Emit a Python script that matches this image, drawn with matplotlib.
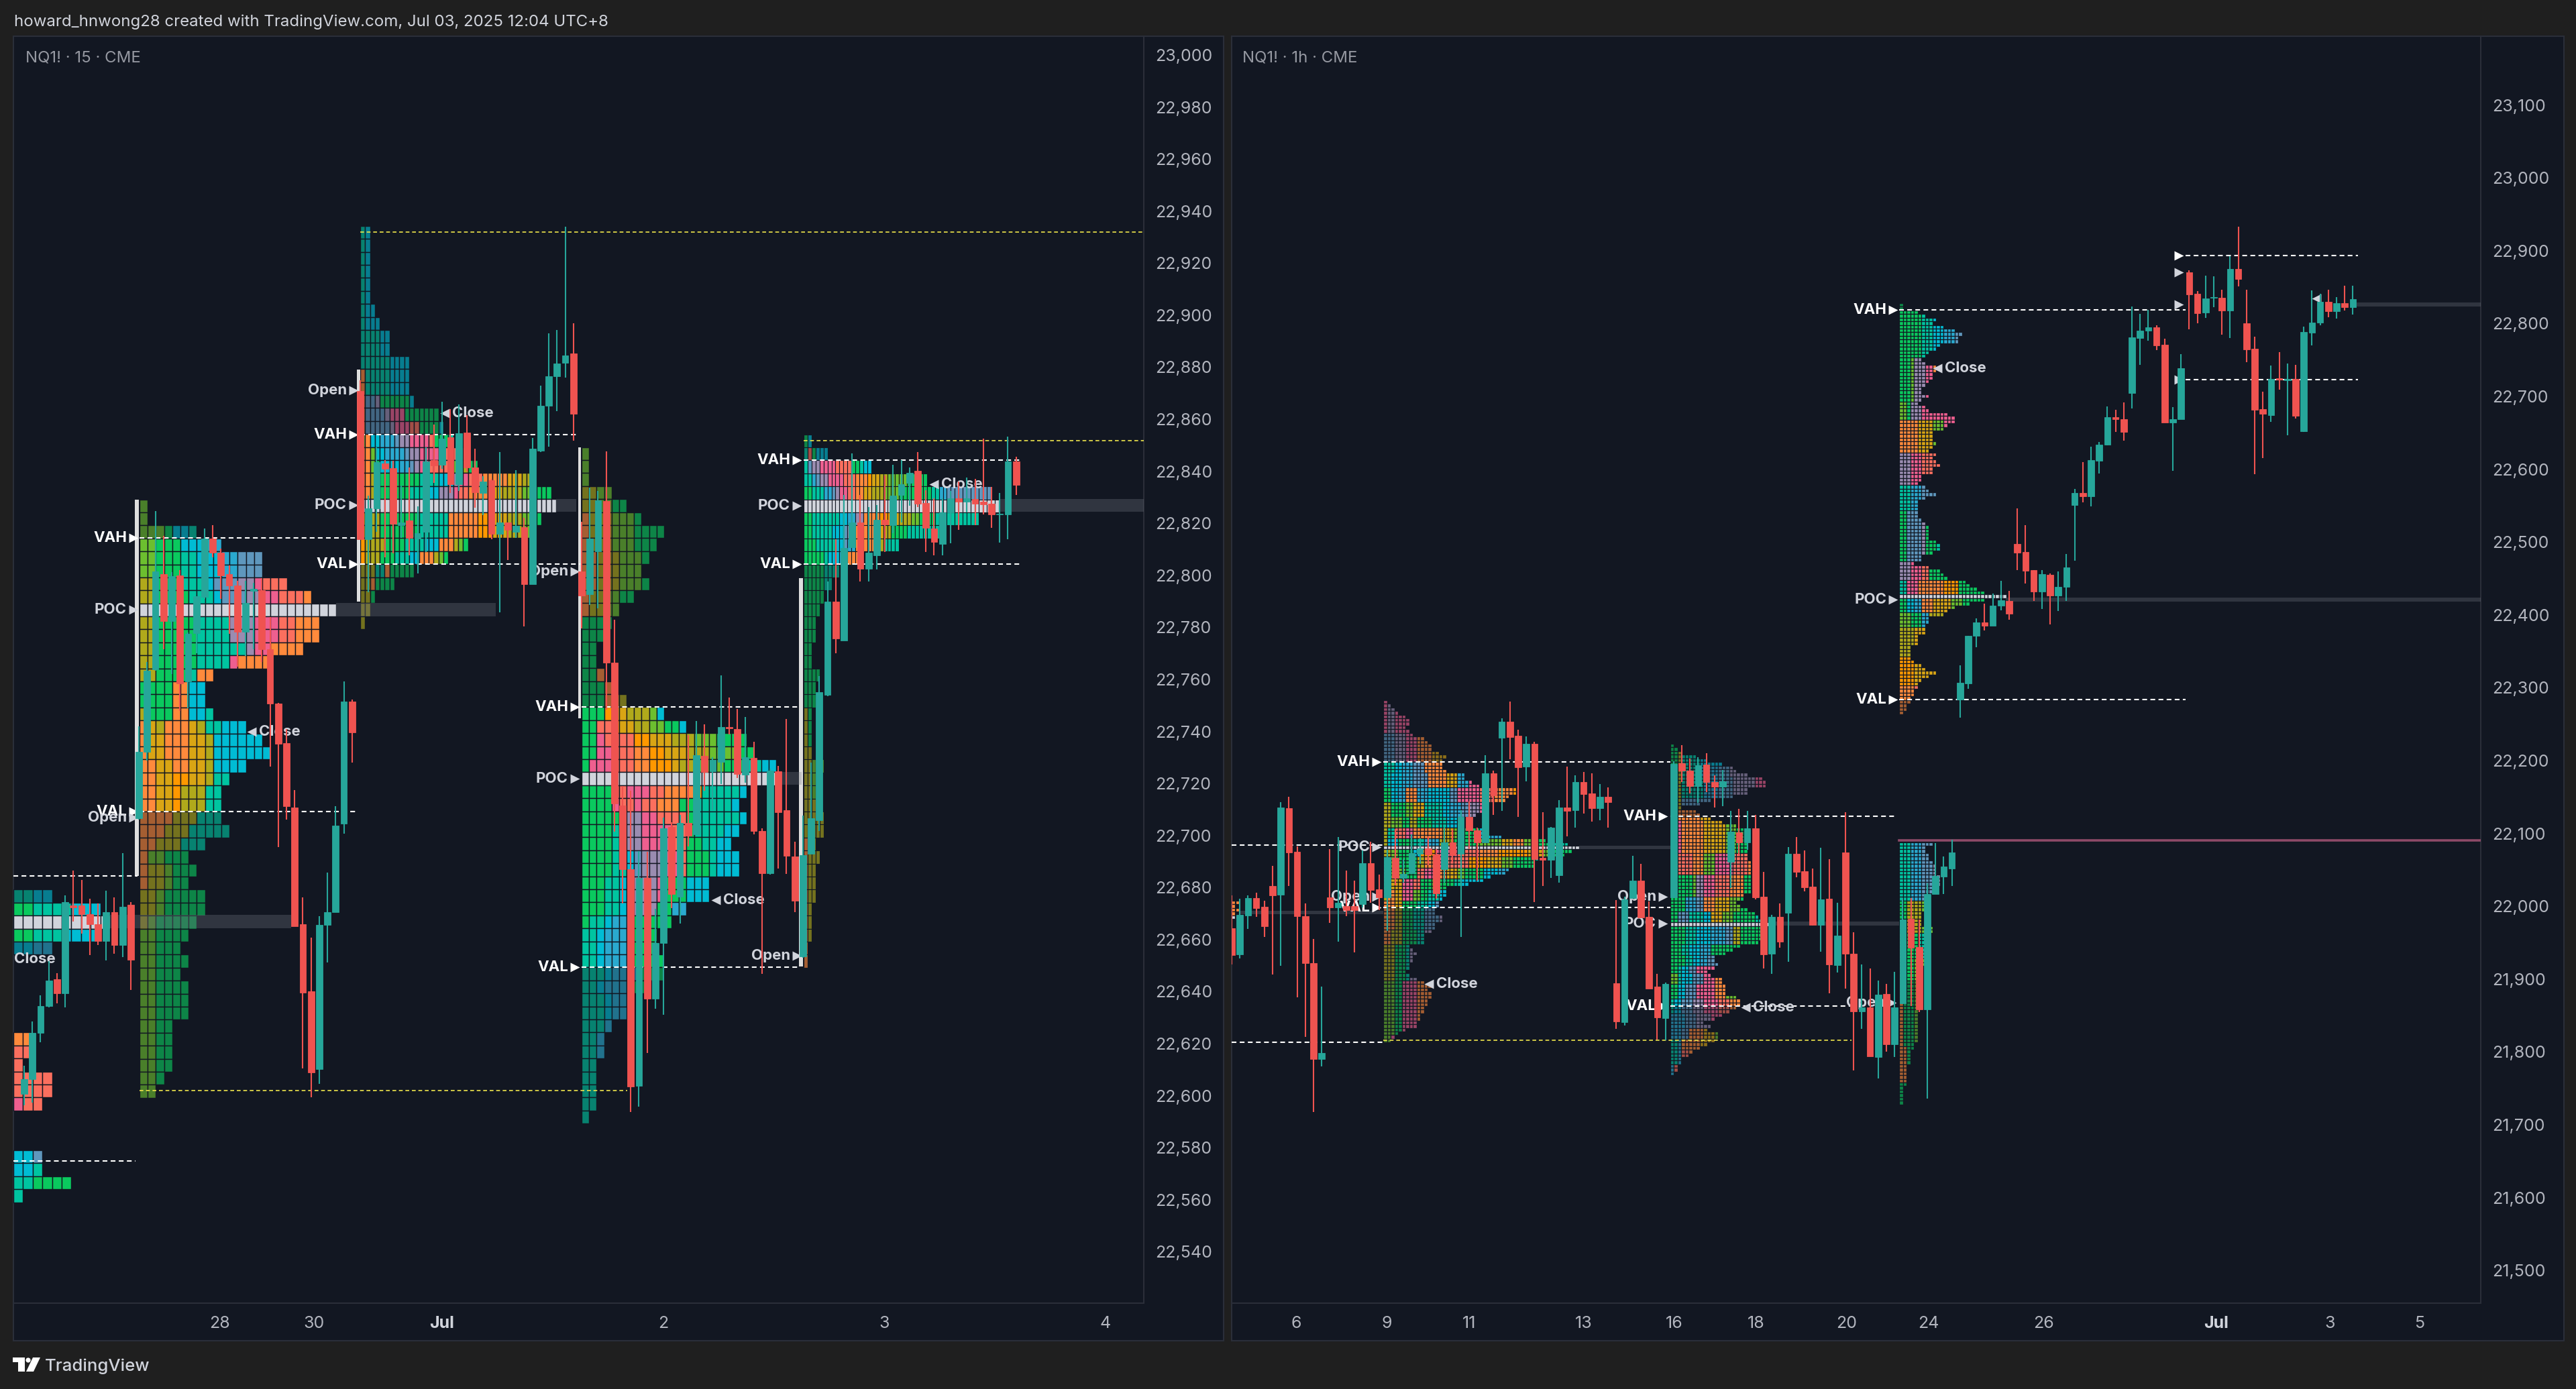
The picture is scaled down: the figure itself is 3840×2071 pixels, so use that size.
"""TradingView screenshot: NQ1! 15 / 1h candles with session volume profiles."""
import re

import matplotlib
matplotlib.use('Agg')
import matplotlib.pyplot as plt
from matplotlib.colors import to_rgb
from matplotlib.patches import Rectangle, Polygon, Circle

plt.rcParams['font.family'] = ['Inter', 'DejaVu Sans']

# ---- left chart candles (NQ1! 15) ----
left_open = [
    22600.7, 22606.4, 22624.2, 22634.4, 22644.7, 22639.3, 22673, 22673, 22669.7, 22666,
    22659.5, 22670.5, 22658, 22673.3, 22706.7, 22732.2, 22763.8, 22800.4, 22782.3, 22800,
    22759.3, 22777.9, 22791.7, 22814, 22808.6, 22800.4, 22796, 22778.2, 22794, 22794.3,
    22771.7, 22750.6, 22735.5, 22710.8, 22666, 22640, 22610.2, 22665.6, 22670.5, 22704.6,
    22751.4, 22870.9, 22813.8, 22825.6, 22843.1, 22841.1, 22819.2, 22821, 22814.1, 22816.8,
    22844.4, 22842.4, 22853, 22835, 22854.8, 22841.4, 22831.6, 22836.5, 22816, 22820.2,
    22816.8, 22818.4, 22796.7, 22848, 22865.1, 22876.4, 22881.7, 22885.3, 22801.5, 22792.7,
    22809.3, 22828.5, 22766.4, 22711.5, 22687, 22603.7, 22683.8, 22637.2, 22658.7, 22703.3,
    22676.5, 22704.9, 22700.4, 22730.7, 22724.7, 22728.4, 22741.8, 22740.8, 22723.4, 22729.7,
    22701.7, 22685.5, 22724.7, 22709.7, 22691.9, 22653.4, 22692.9, 22705.8, 22754.1, 22789.9,
    22775, 22810.8, 22820.3, 22802.6, 22807.6, 22821.3, 22819.3, 22830.9, 22835.4, 22840.1,
    22827.9, 22818, 22812.1, 22824.3, 22829.6, 22828.4, 22829.3, 22828.4, 22827.6, 22823.4,
    22823.5, 22843.8,
]
left_close = [
    22606.4, 22624.2, 22634.4, 22644.2, 22639.3, 22674.3, 22672.4, 22669.7, 22666, 22659.4,
    22670.5, 22658, 22672.7, 22652.3, 22732.2, 22763.4, 22801.6, 22782.3, 22799.6, 22758.5,
    22777.4, 22791.9, 22814, 22808.6, 22800, 22796, 22778.2, 22789.4, 22794.7, 22771.7,
    22750.6, 22735.2, 22711.2, 22665, 22639.5, 22609, 22665.6, 22670.5, 22703.9, 22751.4,
    22739.6, 22813.8, 22825.6, 22843.4, 22841, 22819.9, 22820.4, 22814.5, 22816.3, 22843.7,
    22842.2, 22852.5, 22835, 22854.5, 22841.4, 22831.8, 22836, 22816, 22820.2, 22817.4,
    22819, 22796.7, 22848.8, 22865.1, 22876.6, 22881.4, 22884.6, 22862.1, 22792.1, 22814.2,
    22828.8, 22766.4, 22712.4, 22687, 22603.6, 22683.8, 22637.2, 22658.7, 22702.8, 22677.4,
    22704.9, 22699.9, 22730.9, 22724.5, 22729, 22741.8, 22741.2, 22723.7, 22730, 22701.7,
    22685.5, 22724.9, 22709, 22692.1, 22675, 22692.4, 22706.7, 22755.2, 22789.9, 22775.8,
    22810.4, 22820.3, 22802.6, 22808.7, 22821.3, 22819.6, 22830.6, 22834.9, 22839.4, 22827.6,
    22818.2, 22812.9, 22824.3, 22829.6, 22828.4, 22829.6, 22827.6, 22827.4, 22823.4, 22823.6,
    22843.8, 22834.7,
]
left_high = [
    22611.4, 22628.6, 22638.5, 22651.6, 22647, 22677, 22686.5, 22683, 22675.8, 22674,
    22678.8, 22676.3, 22693.2, 22674.3, 22742, 22766.7, 22824.8, 22815.2, 22801.2, 22802,
    22778, 22792, 22818, 22819.3, 22810.3, 22803.7, 22798, 22798, 22797, 22799,
    22784, 22751, 22741, 22717.4, 22676.3, 22660.7, 22669, 22685.8, 22711.3, 22759.3,
    22752.3, 22875, 22830.6, 22849.3, 22844.4, 22844.1, 22834.5, 22841.4, 22826.6, 22849.3,
    22857.9, 22866.6, 22863.8, 22865.6, 22861.6, 22848.8, 22838, 22837, 22847.3, 22820.2,
    22840.4, 22822.2, 22852.8, 22873, 22892.9, 22894.2, 22934, 22897, 22820.5, 22833.6,
    22832.5, 22847.6, 22782.9, 22719, 22717.2, 22694, 22693.7, 22671.8, 22707, 22705.2,
    22708, 22738.6, 22743.9, 22742.6, 22730, 22761.6, 22753, 22748.7, 22745.5, 22736.1,
    22702.8, 22725.7, 22726.8, 22744.7, 22697.6, 22707.6, 22727.9, 22761.2, 22797.7, 22813.9,
    22830.9, 22846.9, 22830.9, 22826.2, 22826.9, 22838.4, 22842.5, 22844.3, 22841.5, 22847.4,
    22832.6, 22829.5, 22829.5, 22832.5, 22836.1, 22837.5, 22837, 22852.5, 22834.1, 22831.6,
    22853.2, 22845.7,
]
left_low = [
    22596.2, 22597.4, 22620.4, 22634, 22635.5, 22634, 22667, 22662.3, 22654, 22658,
    22652, 22654.6, 22653.3, 22640.6, 22706, 22728.9, 22763.4, 22771.6, 22762, 22748,
    22749, 22770, 22791, 22807, 22791, 22777.4, 22765, 22769, 22771.7, 22766.7,
    22726.4, 22695.5, 22706, 22665, 22610.5, 22599.3, 22604.5, 22651.3, 22670.5, 22700.6,
    22728, 22813.8, 22793.6, 22816.8, 22806.9, 22808.4, 22814.3, 22807.6, 22800.8, 22808.9,
    22835.5, 22841, 22831.6, 22832.5, 22840, 22826.1, 22823.2, 22813.8, 22785.7, 22806,
    22814.3, 22780.4, 22796.5, 22847.3, 22849.5, 22863.1, 22876, 22851.8, 22779.7, 22788.7,
    22787.2, 22748.3, 22701.5, 22673.9, 22593.7, 22595.7, 22616.4, 22633.3, 22631.2, 22672,
    22666.2, 22695.8, 22700.4, 22717.2, 22709.7, 22719.9, 22738.8, 22722, 22720.4, 22700.4,
    22646.7, 22685, 22687.3, 22685.3, 22670.5, 22653, 22692.9, 22701.8, 22753.6, 22770.1,
    22775, 22810.4, 22797.7, 22797.7, 22802.2, 22809, 22816.3, 22820.3, 22826.7, 22826.2,
    22809, 22807.8, 22807.8, 22812.2, 22817.5, 22824.3, 22819.3, 22823.5, 22818.2, 22812.5,
    22813.8, 22830.9,
]

# ---- right chart candles (NQ1! 1h) ----
right_open = [
    21969.9, 21933.7, 21987.1, 22011, 21999.4, 22027.4, 22015.9, 22134.3, 22074.7, 21986.3,
    21921.7, 21789.8, 22012.2, 21998.6, 22000, 22000, 22002.7, 22059, 22023.3, 22012.3,
    22066.5, 22039.2, 22045.2, 22072.1, 22079.7, 22070.8, 22050.8, 22087.9, 22072.1, 22122.5,
    22104.4, 22087.3, 22182.3, 22231.7, 22253.4, 22234.3, 22191.5, 22222.8, 22066.5, 22063.9,
    22042.9, 22135.6, 22132.3, 22170.1, 22154.7, 22134.6, 22150.4, 21894.6, 21841.2, 22011,
    22035.6, 21985.5, 21889.3, 21846.8, 22012.3, 22196.2, 22186, 22165.1, 22194.6, 22170.8,
    22163.9, 22061.4, 22101.1, 22087.8, 22107.4, 22012.9, 21934.6, 21985.3, 21990.7, 22071.6,
    22048.1, 22026.6, 21974.2, 22010.7, 21919.4, 22073.5, 21934.6, 21855.3, 21861, 21793,
    21879.4, 21810.3, 21866.2, 21983, 21944.3, 21858, 22017.1, 22040.6, 22052.1, 22283.9,
    22305.9, 22371, 22389.3, 22385.2, 22412.6, 22419, 22497.4, 22486.8, 22461.6, 22431.9,
    22454.8, 22426.4, 22438.7, 22551, 22567, 22562.4, 22612, 22633.4, 22671.9, 22669.2,
    22704.4, 22780, 22790.1, 22795.1, 22770.9, 22663.7, 22669.2, 22870.3, 22841, 22815.3,
    22835, 22835.5, 22817.6, 22875.3, 22800.6, 22765.4, 22682.4, 22674.7, 22724.6, 22722.3,
    22724.1, 22651.8, 22787.8, 22801.1, 22829.5, 22816.7, 22827.7, 22822.2,
]
right_close = [
    21932.9, 21988.4, 22011, 21997.8, 21972.7, 22015, 22135.1, 22073.8, 21986.3, 21921.7,
    21789.8, 21798.4, 21998.6, 22004.8, 21995, 21995, 22059, 22022, 22012.2, 22067.7,
    22039.2, 22044.2, 22073.1, 22079.7, 22070.8, 22017.9, 22087.9, 22069.8, 22122.5, 22104.4,
    22087.9, 22182.3, 22152, 22253, 22232.6, 22190.9, 22222.8, 22064.9, 22063.9, 22107.7,
    22135.6, 22131.3, 22170.8, 22154.4, 22134.6, 22150.4, 22143.2, 21841.6, 22009.7, 22035.6,
    21984.3, 21886.8, 21847.4, 21893.4, 22195.2, 22186, 22165.1, 22193.7, 22170.8, 22163.9,
    22171.5, 22102, 22087.8, 22107.4, 22012.3, 21933.6, 21985.3, 21951.1, 22071.6, 22047.2,
    22025.6, 21974.2, 22009.7, 21920.3, 21959.3, 21934.6, 21856, 21861, 21793.5, 21878.2,
    21810.3, 21860.9, 21982.2, 21943.1, 21858, 22017.1, 22041.8, 22054.1, 22073.8, 22306.8,
    22371.4, 22389.3, 22385.2, 22412.6, 22420.4, 22402, 22485.9, 22460.3, 22431.9, 22455.7,
    22426.4, 22438.7, 22465.3, 22567, 22563.3, 22612.4, 22633.4, 22671.5, 22669.2, 22650.8,
    22781.4, 22790.6, 22795.1, 22769.9, 22663.7, 22669.2, 22738.8, 22839.6, 22814.4, 22834.1,
    22836, 22817.6, 22875.3, 22861.1, 22764.9, 22681.5, 22676.5, 22723.7, 22722.8, 22723.7,
    22673.3, 22788.3, 22801.6, 22829.5, 22816.7, 22827.7, 22822.2, 22834,
]
right_high = [
    22015, 22010.1, 22015, 22018.4, 22007.7, 22055.4, 22142.5, 22149.9, 22081.7, 22004,
    21954.6, 21889.7, 22078.8, 22095, 22048.8, 22035, 22076.7, 22089, 22043, 22077.6,
    22106, 22064.9, 22098.5, 22092.9, 22096.1, 22078, 22107.7, 22105, 22132.3, 22143.8,
    22108.3, 22207, 22186, 22258, 22281.3, 22242.5, 22233.6, 22226, 22129, 22109.3,
    22145.5, 22191.5, 22179.4, 22184.3, 22182.7, 22167.8, 22162.9, 22008.9, 22013, 22069.7,
    22058.2, 22006.8, 21907.6, 21895, 22199.4, 22220.9, 22203.2, 22204.8, 22209.8, 22179.7,
    22186.7, 22131.2, 22133.4, 22130.6, 22125.5, 22047.2, 21987.9, 22003.4, 22081.1, 22095.4,
    22076.3, 22051.9, 22080.5, 22064.6, 22004.4, 22129, 21964.7, 21920.3, 21914.6, 21897.9,
    21893.8, 21910.2, 22011, 22011, 21982, 22031.5, 22087, 22068.5, 22091.1, 22331,
    22371.4, 22395.2, 22415.8, 22429.6, 22446.5, 22432.8, 22546.4, 22523.5, 22461.6, 22461.6,
    22457, 22459.4, 22483.2, 22573, 22609.6, 22631.1, 22637, 22686.1, 22681.5, 22692,
    22823.5, 22813, 22819, 22797.4, 22779, 22685.2, 22758.5, 22873, 22844.2, 22865.7,
    22864.8, 22846.4, 22892.3, 22933, 22846.4, 22782.3, 22706.7, 22742.5, 22760.8, 22744.8,
    22743.4, 22796, 22845.5, 22841, 22846.4, 22835.9, 22852, 22852.4,
]
right_low = [
    21920, 21928.7, 21969, 21985.5, 21957.5, 21906.1, 21918.5, 22027.4, 21874.5, 21821,
    21717.8, 21780, 21977.2, 21951.4, 21986, 21937, 21998.6, 22004.8, 21994.5, 21965.7,
    22028.7, 22032, 22045.2, 22058.3, 22056.7, 22010.6, 22032, 22060, 21958, 22078,
    22035.3, 22087.3, 22125.1, 22130.7, 22201.4, 22122.5, 22171.8, 22005.7, 22028, 22038.6,
    22032.7, 22095.5, 22108.3, 22127.4, 22116.5, 22118.5, 22108.3, 21832.1, 21836, 22011,
    21984, 21886.8, 21817.3, 21815.7, 22011.6, 22170.2, 22155, 22142.3, 22156.6, 22135.9,
    22137.5, 22025, 22069.4, 22077.3, 22009.7, 21914.6, 21907.6, 21943.2, 21924.1, 22040.2,
    22020.2, 21973.6, 21937.8, 21880, 21908.6, 21887, 21774.4, 21831.5, 21793.5, 21763.5,
    21800.5, 21793, 21866, 21863, 21855, 21736.3, 22017, 22017.1, 22028.2, 22258.7,
    22299, 22355.4, 22378.3, 22385.2, 22406.7, 22393.8, 22461.6, 22443.3, 22419, 22408,
    22387, 22405.8, 22419, 22474.5, 22554.6, 22548.7, 22594.5, 22632.5, 22650.8, 22639.4,
    22683.8, 22743.4, 22776.4, 22764, 22663.7, 22598.2, 22669.2, 22792.4, 22800.6, 22807.5,
    22822.2, 22784.6, 22780, 22851, 22746.6, 22593.1, 22615.1, 22665.5, 22709, 22646.3,
    22670, 22650.8, 22770, 22797.4, 22808.4, 22806.6, 22817.6, 22812,
]

# ---- left chart profiles: cells per row, top to bottom ----
prof_a_widths = [1, 1, 7, 10, 15, 15, 18, 21, 24, 22, 22, 20, 16, 9, 8, 8, 9, 13, 15, 16, 13, 11, 10, 10,
                 10, 11, 8, 6, 7, 6, 8, 8, 7, 6, 5, 6, 5, 6, 6, 6, 4, 4, 4, 4, 3, 2]
prof_a_colors = [(2, 'l2'), (1, 'l3g1c2t1'), (1, 'l2g3c3b2'), (2, 'l2g3t2c3b2s3'), (1, 'k2g3t3c1s3v2p1r3O1'),
                 (1, 'k2g4t3c1s3v2p2r3O1'), (1, 'W'), (2, 'k2g5t4v3p3r2O3'), (1, 'k2g5t6v1p2O4'), (1, 'k2g5t4p1O4'),
                 (1, 'k2g4t1O2'), (2, 'g4O2c2'), (1, 'k1g3O2c2t1'), (1, 'O1y1k1O3y1k1t2c3'), (2, 'O1y2O3y2k1c6'),
                 (1, 'O2y2O2y2k1c2'), (1, 'O2y2o2y2k1t2'), (2, 'O2y2o1k3t2'), (1, 'O4k3t3'), (1, 'O3k3t5'),
                 (1, 'O2k3t3'), (1, 'O1l2g3'), (2, 'O1k2l1g2'), (2, 'k2l1g4'), (1, 'k1l1g5'), (13, 'l2g4')]
prof_b_widths = [2, 2, 2, 2, 2, 2, 3, 4, 6, 6, 10, 10, 10, 11, 16, 17, 19, 22, 24, 35, 39, 40, 37, 35, 22, 18,
                 11, 7, 3, 2, 1]
prof_b_colors = [(8, 't1c1'), (2, 't4c2'), (1, 't6c4'), (2, 'O1t5c4'), (1, 'O1s2v1g6c1'), (1, 'O1s4v1p3g7b1'),
                 (1, 'O1s5v1p3r2g4c1'), (1, 'l1O1c2b3s1v2p4r1g3t1'), (1, 'O2l1c2b4s1v2p4r5'),
                 (1, 'O2l1g1c4b2s1v1p2r4l2k2g2'), (1, 'O2k2g8t4c3v1p2r3O5y3k2g1'), (1, 'O2k2g6t4c2v3p1r2O4y3k4l3g3'),
                 (1, 'W'), (1, 'k4g8t6O6o3y3k3l2g2'), (1, 'k4g8t6O6o3y3k3l2g2'), (1, 'o1k4g4t4c3O3k1l1g1'),
                 (1, 'o1k3g3t3c2O3k1l1g1'), (1, 'k3t2O1g5'), (1, 'k2O1g4'), (3, 'k2g1')]
prof_c_widths = [1, 1, 1, 4, 6, 8, 11, 10, 9, 8, 9, 7, 5, 4, 3, 2, 2, 3, 4, 6, 11, 14, 22, 23, 26, 26, 22, 21, 22,
                 21, 20, 21, 21, 17, 17, 14, 12, 10, 10, 11, 11, 9, 7, 6, 4, 3, 3, 2, 2, 2, 2, 1]
prof_c_colors = [(3, 'l1'), (2, 'k2l2g1'), (3, 'O1k3l3g4'), (3, 'O2k3l3g2'), (2, 'O1k2l2g2'), (4, 'g3'),
                 (1, 'g2O1'), (1, 'g3O1'), (1, 'g3O1k2'), (1, 'g3o1y2k3l1c1'), (1, 'g2r2o1y2k2l2g2c1'),
                 (1, 'g2p1r4o2y3k3l3g4'), (1, 'g2p2r3O2o2y3k3l4g3c1'), (1, 'g1p3r3O2o3y1k2l4g3t2c2'), (1, 'W'),
                 (1, 'g4r2p3r2O4o1t5c1'), (1, 'g4p1r2p1r2O3g2t5c1'), (1, 'g5s1v2p2r4g1t6c1'), (1, 'g4t1s1v2p4r2g1t4c2'),
                 (1, 'g4t2v2p4r2g2t2c2'), (2, 'g4t2c1s1v3p2r1g3t1c4'), (2, 'g3t2c1s1v3p1g3c4'), (1, 'g3t2c1s1v3g2b2'),
                 (1, 'g1t2c1b3g5'), (3, 't2c1b3s1g4'), (1, 't3c1b4g3'), (1, 't2c1b3g3'), (2, 't3c1b3'), (1, 't3b1'),
                 (2, 't2b1'), (5, 't2')]
prof_d_widths = [2, 6, 17, 31, 47, 49, 44, 35, 24, 14, 9, 7, 5, 4, 3, 3, 2, 2, 4, 3, 3, 2, 2, 2, 2, 5, 3, 3, 3, 5,
                 5, 3, 4, 3, 3, 3, 2, 2, 2, 1, 1]
prof_d_colors = [(1, 'g1c1'), (1, 't1r1g1c3'), (1, 't1s1v2p4r4g2t1c2'), (1, 't2b1s1v2p4r3O3o1y2k2l5g5t1b1'),
                 (1, 'g2t3b2s1v1p2r2O2y2k3l4g8t2b2s2'), (1, 'W'), (1, 'g2t7c2b2v2O4o3y2k3l2g4t11'),
                 (1, 'g2t5c3s1v1O6o1y1k2g4t9'), (1, 'g3t5c2s1b2O5k2t4'), (1, 'g5t1c3b2O3'), (5, 'g5t1'), (6, 'g2'),
                 (3, 'k1g2l2'), (4, 'k2l1'), (3, 'k3'), (8, 'O1k3'), (5, 'O2')]
# small profiles cut off by the left edge
prof_e_widths = [4, 9, 10, 9, 4]
prof_e_colors = [(1, 't2c2'), (1, 'g2t4c3'), (1, 'W'), (1, 'g2t3c4'), (1, 'c2b2')]
prof_f_widths = [2, 2, 1, 4, 4, 3]
prof_f_colors = [(1, 'O2'), (1, 'r2'), (1, 'r1'), (2, 'r4'), (1, 'p1r2')]
prof_g_widths = [3, 3, 6, 1]
prof_g_colors = [(1, 'c2s1'), (1, 'c2t1'), (1, 't2g4'), (1, 't1')]

# ---- right chart profiles ----
prof_h_widths = [2, 1, 2, 1, 2]
prof_h_colors = [(1, 'O2'), (1, 'O1'), (1, 'O2'), (1, 'O1'), (1, 'W')]
prof_i_widths = [1, 2, 3, 4, 6, 7, 7, 6, 7, 8, 11, 12, 13, 13, 15, 17, 16, 16, 16, 17, 22, 22, 24, 26, 36, 36, 34, 33,
                 27, 27, 27, 25, 20, 20, 21, 27, 27, 32, 44, 50, 53, 51, 49, 42, 41, 41, 34, 33, 29, 27, 23, 17, 17,
                 17, 16, 15, 15, 14, 14, 16, 16, 14, 14, 13, 11, 11, 11, 7, 8, 9, 8, 8, 7, 7, 6, 7, 9, 11, 13, 12, 13,
                 13, 12, 12, 11, 11, 10, 10, 9, 9, 6, 4, 3, 2]
prof_i_colors = [(9, 'p1v2p9'), (8, 's3v3p3O4y8'), (3, 't3c2b3s3O8y6'), (4, 't2c3b3s4O5y3b3p10'),
                 (4, 'g2c2b2O3b3c6s2p6r4O5o3y3l2'), (4, 'k2g4l2y3t5c2b3s2v3p4O3'), (3, 'k2l3g2k2g4t4c3b2s4'),
                 (3, 'k1t2r3p2O8y3l3g4c3b5'), (2, 'k1c3g4t3b4k4g6l7y3O3l3g5t5'), (1, 'W'),
                 (2, 'k2l2g4c2o4p6r6O5o8y4l3g5'), (3, 'l3g6k2O3p3r6o5y4l3g6t2'), (3, 'k2l4g3r2p4O2y3l2g5c4b3'),
                 (3, 'k2y3p3r2g3l2g4t2c5'), (3, 'k1O2y2p3l2g2t3c3s2'), (2, 'O3y2g4t3c2s2'), (6, 'O3k2g3t3s4v2'),
                 (4, 'O2k3g4t2v3'), (10, 'k3g3t1v3'), (15, 'l3g2p4O6'), (3, 'l2p3O2'), (3, 'p3O2')]
prof_j_widths = [1, 2, 3, 7, 10, 14, 17, 18, 21, 25, 26, 26, 21, 21, 17, 11, 8, 3, 7, 8, 11, 14, 18, 20, 21, 21, 21, 21,
                 21, 21, 21, 21, 22, 22, 22, 22, 22, 22, 22, 22, 22, 20, 20, 18, 19, 21, 23, 24, 25, 27, 26, 26, 25,
                 25, 24, 19, 17, 15, 12, 12, 13, 12, 10, 11, 14, 14, 15, 15, 15, 18, 19, 19, 18, 16, 14, 12, 9, 11,
                 10, 13, 13, 12, 10, 8, 6, 5, 3, 3, 2, 2, 1]
prof_j_colors = [(3, 'g2k1'), (3, 'g2k1t5c6'), (3, 'k3t5b5s3v3'), (6, 'k3t6b4s4v6p6'), (2, 'g2k1s8'), (1, 'k4'),
                 (3, 'k2O6y6l4g3'), (9, 'k1p2O6y6l3g4t2'), (6, 'p1r5O3l3p5r4O3g3'), (6, 'g6l1v2p3r4O4g3t1'),
                 (4, 'g4b3s2O3y4l3g3'), (3, 'g2s3t4c2y3l3g6t1'), (1, 'W'), (5, 'g4t3c4b4s2k2g6'), (3, 'g3t2c3b3g4'),
                 (3, 'g4t2c2b2s2'), (2, 'g2t1c2s2p1'), (3, 'l2t1c3s3p3O2'), (4, 'g2c2s3p5O3l3'), (4, 't1c2s3v3p4r3O2'),
                 (4, 'b4s3v4p4O3l3'), (3, 'b3s2O4y3l3'), (3, 't2b1O5y4k3'), (4, 't2b1r2O2k2'), (4, 'b1r2')]
prof_k_widths = [1, 1, 5, 7, 10, 9, 12, 15, 17, 16, 16, 11, 10, 8, 7, 6, 7, 10, 10, 9, 9, 8, 7, 6, 6, 8, 6, 5, 7, 8, 13,
                 15, 15, 13, 12, 9, 9, 9, 10, 9, 8, 10, 9, 10, 11, 9, 9, 6, 6, 5, 7, 8, 10, 7, 5, 5, 5, 5, 5, 6, 7, 8,
                 8, 8, 8, 10, 11, 11, 9, 6, 6, 4, 8, 11, 12, 13, 18, 19, 21, 23, 29, 23, 19, 15, 13, 12, 8, 8, 7, 7, 7,
                 5, 5, 5, 3, 3, 3, 3, 4, 6, 7, 10, 8, 6, 5, 5, 4, 4, 3, 3, 2, 2, 1]
prof_k_colors = [(2, 'g1'), (13, 'g6t3c3b3s3'), (12, 'g3l1v3p2O2o3'), (5, 'l2g1v3p2'), (9, 'O5y4l3p3r3'), (9, 'v3p3r4'),
                 (7, 't3b3s3'), (14, 'g2s4v1g3t3'), (5, 'v3p3r2g4'), (4, 't2p3O7o4g10'), (1, 'W'),
                 (4, 'g2c2b2O3y5l3g8'), (4, 'l3g3b2k3'), (8, 'k4y3l2'), (8, 'o4y2'), (12, 'O4r3p2o2'), (6, 'r4O4'), (6, 'r3')]
prof_l_widths = [9, 7, 7, 8, 8, 9, 10, 10, 10, 11, 11, 11, 9, 9, 8, 8, 7, 7, 7, 6, 6, 6, 6, 9, 9, 8, 7, 7, 7, 7, 7, 7, 7, 7,
                 6, 6, 6, 6, 6, 6, 6, 6, 6, 6, 6, 5, 5, 5, 5, 5, 5, 5, 5, 5, 5, 4, 4, 3, 3, 3, 3, 2, 2, 2, 2, 2, 2, 1, 1,
                 1, 1, 1]
prof_l_colors = [(16, 't3b3s3v2'), (9, 'g2k4l1'), (7, 'O1g4t1'), (24, 'O1g3l2'), (10, 'O2g1'), (6, 'g1')]

# ---- levels, price axes, time axes ----
left_prices = list(range(22540, 23001, 20))
right_prices = list(range(21500, 23101, 100))
left_dates = ['28', '30', 'Jul', '2', '3', '4']
right_dates = ['6', '9', '11', '13', '16', '18', '20', '24', '26', 'Jul', '3', '5']

# ---- colours ----
BG = '#121722'
FRAME_BG = '#1f1f1f'
BORDER = '#2a2e39'
UP = '#26a69a'
DOWN = '#ef5350'
PALETTE = {
    'g': '#0ac95e', 'l': '#6cbf2f', 'k': '#b0a91b', 'y': '#d9a514', 'o': '#ff9800',
    'O': '#ff8a3c', 'r': '#fb6f5e', 'p': '#ee5f8f', 'v': '#9a8cb0', 's': '#5f97bd',
    'b': '#2aa9cf', 'c': '#00bcd4', 't': '#00c4a0', 'W': '#d1d4dc',
}


def dimmed(color, amount=0.62):
    fg, bg = to_rgb(color), to_rgb(BG)
    return tuple(a * amount + b * (1 - amount) for a, b in zip(fg, bg))


def expand_runs(code, width):
    """'g3t2' -> ['g','g','g','t','t'], the last colour carries on to the row end."""
    cells = []
    for letter, count in re.findall(r'([A-Za-z])(\d*)', code):
        cells += [letter] * int(count or 1)
    while len(cells) < width:
        cells.append(cells[-1])
    return cells[:width]


def draw_profile(ax, to_bar, start_px, cell_px, top, widths, bands, vah=None, val=None, lw=1.0):
    codes = [code for n, code in bands for _ in range(n)]
    xs, ys, cell_w, colors = [], [], [], []
    for row, width in enumerate(widths):
        code = codes[min(row, len(codes) - 1)]
        mid = top - 5 * row - 2.5
        outside = vah is not None and (mid > vah or mid < val)
        for col, letter in enumerate(expand_runs(code, width)):
            c = PALETTE[letter]
            xs.append(to_bar(start_px + col * cell_px))
            ys.append(top - 5 * row - 5)
            cell_w.append(cell_px / px_per_bar(to_bar))
            colors.append(dimmed(c) if outside and letter != 'W' else c)
    ax.bar(xs, [5] * len(xs), width=cell_w, bottom=ys, align='edge', color=colors,
           edgecolor=BG, linewidth=lw, zorder=3)


def px_per_bar(to_bar):
    return 1.0 / (to_bar(1) - to_bar(0))


def draw_candles(ax, o, h, l, c):
    idx = list(range(len(o)))
    colors = [UP if b >= a else DOWN for a, b in zip(o, c)]
    ax.vlines(idx, l, h, colors=colors, linewidth=1.5, zorder=6)
    ax.bar(idx, [b - a for a, b in zip(o, c)], bottom=o, width=0.8, color=colors,
           edgecolor=colors, linewidth=0.6, zorder=6)


def level(ax, to_bar, price, x0, x1, color='white', lw=1.5):
    ax.plot([to_bar(x0), to_bar(x1)], [price, price], color=color, lw=lw,
            ls=(0, (3.4, 2.4)), zorder=4, dash_capstyle='butt')


def poc_band(ax, to_bar, price, x0, x1):
    ax.add_patch(Rectangle((to_bar(x0), price - 2.5), to_bar(x1) - to_bar(x0), 5,
                           facecolor='#787b86', alpha=0.3, edgecolor='none', zorder=4))


def va_bar(ax, to_bar, x0, x1, p0, p1):
    ax.add_patch(Rectangle((to_bar(x0), p1), to_bar(x1) - to_bar(x0), p0 - p1,
                           facecolor='#dedede', edgecolor='none', zorder=3.5))


def tag_left(ax, to_bar, text, tri_px, price, color='#d1d4dc', size=16):
    ax.plot([to_bar(tri_px)], [price], marker='>', ms=9.5, mec='none', color=color, zorder=5)
    ax.text(to_bar(tri_px - 10), price, text, color=color, fontsize=size, fontweight='bold',
            ha='right', va='center', zorder=5)


def tag_close(ax, to_bar, tri_px, price, size=16):
    ax.plot([to_bar(tri_px)], [price], marker='<', ms=9.5, mec='none', color='#d1d4dc', zorder=5)
    ax.text(to_bar(tri_px + 11), price, 'Close', color='#d1d4dc', fontsize=size, fontweight='bold',
            ha='left', va='center', zorder=5)


def style_axes(ax, ticks, prices, xticks, xlabels):
    ax.set_facecolor('none')
    for side in ('top', 'left'):
        ax.spines[side].set_visible(False)
    for side in ('right', 'bottom'):
        ax.spines[side].set_color(BORDER)
        ax.spines[side].set_linewidth(1.5)
    ax.yaxis.tick_right()
    ax.set_yticks(ticks)
    ax.set_yticklabels([f'{v:,}' for v in prices])
    ax.tick_params(axis='y', length=0, pad=12, labelsize=18, labelcolor='#b2b5be')
    ax.set_xticks(xticks)
    ax.set_xticklabels(xlabels)
    ax.tick_params(axis='x', length=0, pad=14, labelsize=18, labelcolor='#b2b5be')
    for lab in ax.get_xticklabels():
        if lab.get_text() == 'Jul':
            lab.set_color('#d1d4dc')
            lab.set_fontweight('bold')


W, H = 3840, 2071
fig = plt.figure(figsize=(W / 100, H / 100), dpi=100, facecolor=FRAME_BG)

# pixel-space layer for panels, header and footer
back = fig.add_axes([0, 0, 1, 1])
back.set_xlim(0, W)
back.set_ylim(H, 0)
back.axis('off')
for x0, x1 in ((20, 1824), (1836, 3822)):
    back.add_patch(Rectangle((x0, 54), x1 - x0, 1999 - 54, facecolor=BG, edgecolor=BORDER, lw=1.5))
back.text(21, 33, 'howard_hnwong28 created with TradingView.com, Jul 03, 2025 12:04 UTC+8',
          color='#d1d4dc', fontsize=17.3, va='center', ha='left')
back.text(38, 87, 'NQ1! · 15 · CME', color='#9598a1', fontsize=17.3, va='center')
back.text(1852, 87, 'NQ1! · 1h · CME', color='#9598a1', fontsize=17.3, va='center')
# TradingView mark
back.add_patch(Polygon([(19, 2024), (37, 2024), (37, 2045), (27, 2045), (27, 2031), (19, 2031)], color='white', lw=0))
back.add_patch(Circle((42, 2028), 3.6, color='white', lw=0))
back.add_patch(Polygon([(49, 2024), (60, 2024), (50, 2045), (39, 2045)], color='white', lw=0))
back.text(67, 2037, 'TradingView', color='#d1d4dc', fontsize=18.5, va='center', fontweight='medium')


def make_axes(x0, x1, y0, y1):
    return fig.add_axes([x0 / W, 1 - y1 / H, (x1 - x0) / W, (y1 - y0) / H])


# ================= left panel =================
ax = make_axes(20, 1705, 54, 1943)
lbar = lambda px: (px - 36) / 12.22
ax.set_xlim(lbar(20), lbar(1705))
ax.set_ylim(23000 - (1943 - 82) / 3.879, 23000 + (82 - 54) / 3.879)
style_axes(ax, left_prices, left_prices, [lbar(p) for p in (328, 468, 659, 989, 1318, 1648)], left_dates)

draw_profile(ax, lbar, 20, 14.4, 22679.2, prof_e_widths, prof_e_colors, vah=22674.2, val=22659.2)
draw_profile(ax, lbar, 20, 14.4, 22624.3, prof_f_widths, prof_f_colors)
draw_profile(ax, lbar, 20, 14.4, 22579, prof_g_widths, prof_g_colors)
draw_profile(ax, lbar, 208, 12.2, 22829.2, prof_a_widths, prof_a_colors, vah=22814.4, val=22709.3)
draw_profile(ax, lbar, 537, 7.3, 22934.3, prof_b_widths, prof_b_colors, vah=22854.2, val=22804.4)
draw_profile(ax, lbar, 867, 11.17, 22849.3, prof_c_widths, prof_c_colors, vah=22749.4, val=22649.4)
draw_profile(ax, lbar, 1198, 5.93, 22854.2, prof_d_widths, prof_d_colors, vah=22844.4, val=22804.4, lw=0.8)

va_bar(ax, lbar, 201, 207, 22829.2, 22684.5)
va_bar(ax, lbar, 532, 537, 22879, 22790)
va_bar(ax, lbar, 862, 866, 22849.3, 22745)
va_bar(ax, lbar, 1191, 1197, 22799, 22649.6)

poc_band(ax, lbar, 22666.9, 164, 434)
poc_band(ax, lbar, 22786.75, 501, 739)
poc_band(ax, lbar, 22826.9, 829, 859)
poc_band(ax, lbar, 22721.9, 1157, 1195)
poc_band(ax, lbar, 22826.9, 1489, 1705)

YELLOW = '#f0e64b'
level(ax, lbar, 22932, 537, 1705, YELLOW, 1.2)
level(ax, lbar, 22851.8, 1198, 1705, YELLOW, 1.2)
level(ax, lbar, 22602, 208, 935, YELLOW, 1.2)
level(ax, lbar, 22684.5, 20, 205)
level(ax, lbar, 22575, 20, 202)
level(ax, lbar, 22814.4, 208, 537)
level(ax, lbar, 22709.3, 208, 530)
level(ax, lbar, 22854.2, 537, 860)
level(ax, lbar, 22804.4, 537, 865)
level(ax, lbar, 22749.4, 867, 1190)
level(ax, lbar, 22649.4, 867, 1190)
level(ax, lbar, 22844.4, 1198, 1520)
level(ax, lbar, 22804.4, 1198, 1520)

tag_left(ax, lbar, 'VAH', 199, 22814.4, 'white')
tag_left(ax, lbar, 'POC', 199, 22786.75)
tag_left(ax, lbar, 'VAL', 199, 22709.3, 'white')
tag_left(ax, lbar, 'Open', 199, 22707)
tag_close(ax, lbar, 375, 22740)
ax.text(lbar(21), 22652.5, 'Close', color='#d1d4dc', fontsize=16, fontweight='bold', va='center', zorder=5)
tag_left(ax, lbar, 'Open', 527, 22871)
tag_left(ax, lbar, 'VAH', 527, 22854.2, 'white')
tag_left(ax, lbar, 'POC', 527, 22826.9)
tag_left(ax, lbar, 'VAL', 527, 22804.4, 'white')
tag_close(ax, lbar, 663, 22862.4)
tag_left(ax, lbar, 'Open', 857, 22801.5)
tag_left(ax, lbar, 'VAH', 857, 22749.4, 'white')
tag_left(ax, lbar, 'POC', 857, 22721.9)
tag_left(ax, lbar, 'VAL', 857, 22649.4, 'white')
tag_close(ax, lbar, 1067, 22675.3)
tag_left(ax, lbar, 'Open', 1188, 22653.7)
tag_left(ax, lbar, 'VAH', 1188, 22844.4, 'white')
tag_left(ax, lbar, 'POC', 1188, 22826.8)
tag_left(ax, lbar, 'VAL', 1188, 22804.4, 'white')
tag_close(ax, lbar, 1392, 22835)

draw_candles(ax, left_open, left_high, left_low, left_close)

# ================= right panel =================
ax2 = make_axes(1836, 3698, 54, 1943)
rbar = lambda px: (px - 1836) / 12.2
ax2.set_xlim(rbar(1836), rbar(3698))
ax2.set_ylim(23100 - (1943 - 156.7) / 1.0859, 23100 + (156.7 - 54) / 1.0859)
right_tick_px = [1932, 2067, 2190, 2361, 2496, 2618, 2753, 2875, 3046, 3304, 3473, 3607]
style_axes(ax2, right_prices, right_prices, [rbar(p) for p in right_tick_px], right_dates)

draw_profile(ax2, rbar, 1836, 5.5, 22007.7, prof_h_widths, prof_h_colors, lw=0.9)
draw_profile(ax2, rbar, 2062, 5.5, 22283, prof_i_widths, prof_i_colors, vah=22198.1, val=21998.5, lw=0.9)
draw_profile(ax2, rbar, 2490, 5.47, 22223, prof_j_widths, prof_j_colors, vah=22123.3, val=21863.2, lw=0.9)
draw_profile(ax2, rbar, 2831, 5.5, 22828.1, prof_k_widths, prof_k_colors, vah=22818.5, val=22283.4, lw=0.9)
draw_profile(ax2, rbar, 2831, 5.5, 22088, prof_l_widths, prof_l_colors, vah=22088, val=21900, lw=0.9)

poc_band(ax2, rbar, 21991.2, 1848, 2062)
poc_band(ax2, rbar, 22081, 2354, 2490)
poc_band(ax2, rbar, 21976.1, 2638, 2831)
poc_band(ax2, rbar, 22420.9, 2990, 3698)
poc_band(ax2, rbar, 22826.3, 3513, 3698)
ax2.plot([rbar(2831), rbar(3698)], [22090.7, 22090.7], color='#8e4a68', lw=2.6, zorder=4)

level(ax2, rbar, 21816, 2062, 2760, YELLOW, 1.2)
level(ax2, rbar, 21813, 1836, 2062)
level(ax2, rbar, 22083.7, 1836, 2062)
level(ax2, rbar, 22198.1, 2062, 2490)
level(ax2, rbar, 21998.5, 2062, 2490)
level(ax2, rbar, 22123.3, 2490, 2827)
level(ax2, rbar, 21863.2, 2490, 2760)
level(ax2, rbar, 22818.5, 2831, 3258)
level(ax2, rbar, 22283.4, 2831, 3258)
level(ax2, rbar, 22893.6, 3258, 3515)
level(ax2, rbar, 22723.2, 3258, 3515)

tag_left(ax2, rbar, 'VAH', 2052, 22198.1, 'white')
tag_left(ax2, rbar, 'POC', 2052, 22081)
tag_left(ax2, rbar, 'Open', 2052, 22013)
tag_left(ax2, rbar, 'VAL', 2052, 21998.5, 'white')
tag_close(ax2, rbar, 2130, 21893.8)
tag_left(ax2, rbar, 'VAH', 2479, 22123.3, 'white')
tag_left(ax2, rbar, 'Open', 2479, 22013)
tag_left(ax2, rbar, 'POC', 2479, 21976.1)
tag_left(ax2, rbar, 'VAL', 2479, 21863.2, 'white')
tag_close(ax2, rbar, 2602, 21861)
tag_left(ax2, rbar, 'VAH', 2822, 22818.5, 'white')
tag_left(ax2, rbar, 'POC', 2822, 22420.9)
tag_left(ax2, rbar, 'VAL', 2822, 22283.4, 'white')
tag_close(ax2, rbar, 2888, 22738.8)
tag_left(ax2, rbar, 'Open', 2820, 21867.9)
for price, tri_color in ((22893.6, 'white'), (22870.3, '#d1d4dc'), (22826.3, '#d1d4dc'), (22723.2, '#d1d4dc')):
    ax2.plot([rbar(3248)], [price], marker='>', ms=9.5, mec='none', color=tri_color, zorder=5)
ax2.plot([rbar(3453)], [22834.5], marker='<', ms=9.5, mec='none', color='#d1d4dc', zorder=5)

draw_candles(ax2, right_open, right_high, right_low, right_close)

fig.savefig('out.png', dpi=100, facecolor=FRAME_BG)
